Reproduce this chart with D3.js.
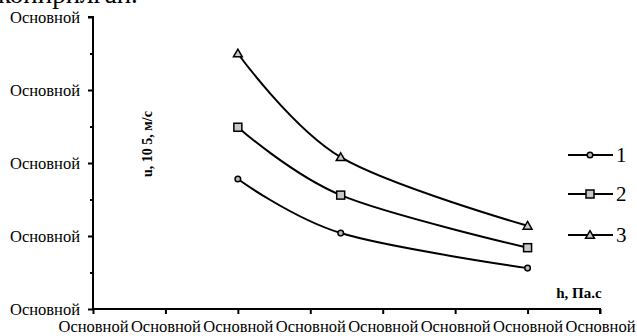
<!DOCTYPE html>
<html>
<head>
<meta charset="utf-8">
<script src="https://cdn.jsdelivr.net/npm/d3@7"></script>
<style>
  html, body { margin: 0; padding: 0; background: #fff; }
  svg { display: block; }
  text { font-family: "Liberation Serif", "Times New Roman", serif; fill: #000; }
</style>
</head>
<body>
<svg id="chart" width="637" height="336"></svg>
<script>
// Flow velocity vs viscosity for three regimes
const xTickValues = [0, 1, 2, 3, 4, 5, 6, 7];
const xTickLabels = ["Основной", "Основной", "Основной", "Основной", "Основной", "Основной", "Основной", "Основной"];
const yTickValues = [0, 1, 2, 3, 4];
const yTickLabels = ["Основной", "Основной", "Основной", "Основной", "Основной"];
const yMinorTicks = [0.5, 1.5, 2.5, 3.5];

const hValues = [2, 3.42, 6];
const series1 = [1.78, 1.04, 0.56];
const series2 = [2.49, 1.56, 0.84];
const series3 = [3.5, 2.08, 1.14];
const seriesNames = ["1", "2", "3"];
const seriesMarkers = ["circle", "square", "triangle"];

const yTitle = "u, 10 5, м/с";
const xTitle = "h, Па.с";
const headerText = "копирилган.";

const svg = d3.select("#chart");

// clipped line of running text above the figure
svg.append("text")
  .attr("x", -2).attr("y", 3)
  .style("font-size", "27px")
  .text(headerText);

const x = d3.scaleLinear().domain([0, 7]).range([93, 600]);
const y = d3.scaleLinear().domain([0, 4]).range([309, 17]);

// y axis
const yAxis = svg.append("g")
  .attr("transform", `translate(${x(0)},0)`)
  .call(d3.axisLeft(y).tickValues(yTickValues)
    .tickFormat((d, i) => yTickLabels[i]).tickSize(5).tickPadding(8));
yAxis.select(".domain").attr("stroke-width", 2).attr("d", `M-5,${y(4)}H0V${y(0)}`);
yAxis.selectAll(".tick line").attr("stroke-width", 2);
yAxis.selectAll(".tick text").style("font-size", "16.5px").style("font-family", "Liberation Serif");

svg.append("g")
  .attr("transform", `translate(${x(0)},0)`)
  .call(d3.axisLeft(y).tickValues(yMinorTicks).tickFormat("").tickSize(3))
  .call(g => g.select(".domain").remove())
  .selectAll(".tick line").attr("stroke-width", 2);

// x axis
const xAxis = svg.append("g")
  .attr("transform", `translate(0,${y(0)})`)
  .call(d3.axisBottom(x).tickValues(xTickValues)
    .tickFormat((d, i) => xTickLabels[i]).tickSize(5).tickPadding(6));
xAxis.select(".domain").attr("stroke-width", 2).attr("d", `M${x(0)},0H${x(7)}V5`);
xAxis.selectAll(".tick line").attr("stroke-width", 2);
xAxis.selectAll(".tick text").style("font-size", "16.5px").style("font-family", "Liberation Serif");

// axis titles
svg.append("text")
  .attr("transform", `translate(152,144) rotate(-90)`)
  .attr("text-anchor", "middle")
  .style("font-size", "14px").style("font-weight", "bold")
  .text(yTitle);

svg.append("text")
  .attr("x", 579).attr("y", 298)
  .attr("text-anchor", "middle")
  .style("font-size", "15px").style("font-weight", "bold")
  .text(xTitle);

const line = d3.line()
  .x(d => x(d[0])).y(d => y(d[1]))
  .curve(d3.curveCardinal.tension(0));

function drawMarker(g, type, cx, cy) {
  if (type === "circle") {
    g.append("circle").attr("cx", cx).attr("cy", cy).attr("r", 2.8)
      .attr("fill", "#bbb").attr("stroke", "#000").attr("stroke-width", 1.5);
  } else if (type === "square") {
    g.append("rect").attr("x", cx - 4).attr("y", cy - 4).attr("width", 8).attr("height", 8)
      .attr("fill", "#c8c8c8").attr("stroke", "#000").attr("stroke-width", 1.5);
  } else {
    const sym = d3.symbol().type(d3.symbolTriangle).size(34);
    g.append("path").attr("d", sym()).attr("transform", `translate(${cx},${cy + 0.8})`)
      .attr("fill", "#c8c8c8").attr("stroke", "#000").attr("stroke-width", 1.5);
  }
}

const allSeries = [series1, series2, series3];
allSeries.forEach((vals, si) => {
  const pts = hValues.map((h, i) => [h, vals[i]]);
  const g = svg.append("g");
  g.append("path").attr("d", line(pts))
    .attr("fill", "none").attr("stroke", "#000").attr("stroke-width", 2);
  pts.forEach(p => drawMarker(g, seriesMarkers[si], x(p[0]), y(p[1])));
});

// legend
const legendY = [155, 194, 235];
seriesNames.forEach((name, i) => {
  const g = svg.append("g");
  g.append("line").attr("x1", 568).attr("x2", 613).attr("y1", legendY[i]).attr("y2", legendY[i])
    .attr("stroke", "#000").attr("stroke-width", 2);
  drawMarker(g, seriesMarkers[i], 590, legendY[i]);
  g.append("text").attr("x", 616).attr("y", legendY[i] + 7)
    .style("font-size", "21px").text(name);
});
</script>
</body>
</html>
